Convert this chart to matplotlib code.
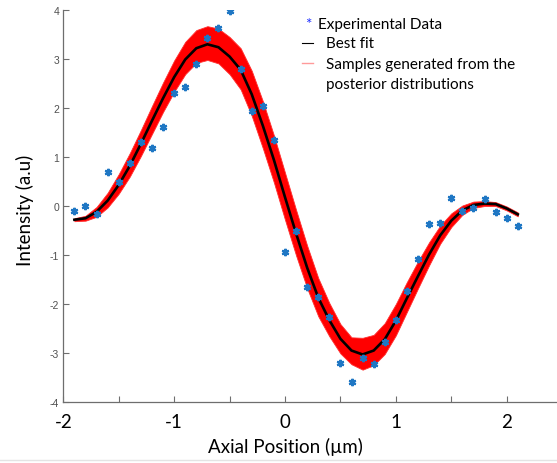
import matplotlib
matplotlib.use("Agg")
import matplotlib.pyplot as plt
from matplotlib.lines import Line2D
import numpy as np

# Axial positions (µm) of the measurements and of the fitted model
axial_pos = [-1.9, -1.8, -1.7, -1.6, -1.5, -1.4, -1.3, -1.2, -1.1, -1.0,
             -0.9, -0.8, -0.7, -0.6, -0.5, -0.4, -0.3, -0.2, -0.1, 0.0,
             0.1, 0.2, 0.3, 0.4, 0.5, 0.6, 0.7, 0.8, 0.9, 1.0,
             1.1, 1.2, 1.3, 1.4, 1.5, 1.6, 1.7, 1.8, 1.9, 2.0, 2.1]

# Measured intensity (a.u)
experimental = [-0.11, 0.00, -0.16, 0.70, 0.50, 0.88, 1.31, 1.19, 1.61, 2.31,
                2.43, 2.90, 3.43, 3.63, 3.97, 2.80, 1.93, 2.04, 1.34, -0.94,
                -0.52, -1.66, -1.86, -2.26, -3.20, -3.60, -3.10, -3.22, -2.77, -2.33,
                -1.74, -1.08, -0.37, -0.34, 0.16, -0.11, -0.04, 0.14, -0.13, -0.25, -0.41]

# Best-fit model curve
best_fit = [-0.28, -0.25, -0.12, 0.11, 0.43, 0.82, 1.27, 1.74, 2.20, 2.63,
            2.99, 3.22, 3.30, 3.24, 3.05, 2.78, 2.28, 1.64, 0.94, 0.18,
            -0.56, -1.26, -1.87, -2.33, -2.71, -2.95, -3.03, -2.95, -2.72, -2.34,
            -1.88, -1.43, -0.99, -0.60, -0.30, -0.09, 0.02, 0.05, 0.04, -0.05, -0.17]

# Envelope of the posterior sample curves
posterior_upper = [-0.25, -0.20, -0.02, 0.27, 0.65, 1.08, 1.55, 2.04, 2.52, 2.97,
                   3.35, 3.59, 3.67, 3.62, 3.45, 3.22, 2.76, 2.14, 1.44, 0.68,
                   -0.08, -0.81, -1.47, -1.98, -2.41, -2.68, -2.69, -2.63, -2.39, -2.00,
                   -1.55, -1.13, -0.74, -0.40, -0.15, 0.01, 0.09, 0.10, 0.08, -0.01, -0.13]
posterior_lower = [-0.31, -0.30, -0.22, -0.03, 0.25, 0.60, 1.02, 1.47, 1.92, 2.33,
                   2.69, 2.92, 2.98, 2.91, 2.69, 2.38, 1.84, 1.18, 0.48, -0.28,
                   -1.01, -1.68, -2.25, -2.66, -3.01, -3.23, -3.34, -3.25, -3.02, -2.64,
                   -2.16, -1.68, -1.21, -0.77, -0.43, -0.18, -0.04, 0.00, 0.00, -0.09, -0.21]

x_ticks_major = [-2, -1, 0, 1, 2]
x_ticks_minor = [-1.5, -0.5, 0.5, 1.5]
y_ticks = [-4, -3, -2, -1, 0, 1, 2, 3, 4]

W, H = 557, 464
fig = plt.figure(figsize=(W / 100, H / 100), dpi=100)
fig.patch.set_facecolor("white")

# axes frame in pixel terms: x=-2 at 63 px, 110.85 px per µm; y=4 at 11 px, y=-4 at 403 px
x0_px, px_per_um = 63.3, 110.85
x_right = 2.5
ax = fig.add_axes([x0_px / W, (H - 403) / H,
                   (x_right + 2) * px_per_um / W, (403 - 11) / H])
ax.set_xlim(-2, x_right)
ax.set_ylim(-4, 4)

# posterior samples band
ax.fill_between(axial_pos, posterior_lower, posterior_upper,
                color="#ff0000", linewidth=0.6, edgecolor="#ff3030", zorder=2)
# best fit
ax.plot(axial_pos, best_fit, color="black", linewidth=1.9, zorder=3,
        solid_joinstyle="miter")
# experimental points (asterisks)
ax.plot(axial_pos, experimental, linestyle="none", marker=(6, 2, 0),
        markersize=5.3, markeredgewidth=1.6, color="#1f77c4", zorder=4)

# spines / ticks
for side in ("top", "right"):
    ax.spines[side].set_visible(False)
for side in ("left", "bottom"):
    ax.spines[side].set_color("#6e6e6e")
    ax.spines[side].set_linewidth(0.9)

ax.set_yticks(y_ticks)
ax.set_yticklabels([str(v) for v in y_ticks], fontsize=7.5, color="#505050",
                   fontfamily="Liberation Sans")
ax.set_xticks(x_ticks_major)
ax.set_xticks(x_ticks_minor, minor=True)
ax.set_xticklabels([str(v) for v in x_ticks_major], fontsize=13.5,
                   fontfamily="Lato", color="black")
ax.tick_params(axis="both", which="both", direction="in", length=4,
               width=0.8, color="#6e6e6e")
ax.tick_params(axis="y", pad=3)
ax.tick_params(axis="x", pad=8)

fig.text(0.5 * (63 + 507) / W, 1 - 447 / H, "Axial Position (µm)", fontsize=13.5,
         fontfamily="Lato", ha="center", va="center")
fig.text(25 / W, 1 - 210 / H, "Intensity (a.u)", fontsize=13.5,
         fontfamily="Lato", ha="center", va="center", rotation=90)

# legend block
lx_text = 318 / W
fig.text(308 / W, 1 - 25 / H, "*", fontsize=11, color="#2030ff",
         ha="center", va="center", fontfamily="Lato")
fig.text(lx_text, 1 - 25 / H, "Experimental Data", fontsize=11,
         fontfamily="Lato", va="center")
fig.add_artist(Line2D([302 / W, 313 / W], [1 - 44 / H, 1 - 44 / H],
                      color="black", linewidth=0.8))
fig.text(lx_text + 8 / W, 1 - 44 / H, "Best fit", fontsize=11,
         fontfamily="Lato", va="center")
fig.add_artist(Line2D([302 / W, 313 / W], [1 - 64 / H, 1 - 64 / H],
                      color="#ff9a9a", linewidth=1.0))
fig.text(lx_text + 8 / W, 1 - 65 / H, "Samples generated from the", fontsize=11,
         fontfamily="Lato", va="center")
fig.text(lx_text + 8 / W, 1 - 85 / H, "posterior distributions", fontsize=11,
         fontfamily="Lato", va="center")

# faint rule along the lower edge
fig.add_artist(Line2D([0, 1], [1 - 461 / H, 1 - 461 / H], color="#e4e4e4",
                      linewidth=1.0))

fig.savefig("out.png", dpi=100, facecolor="white")
